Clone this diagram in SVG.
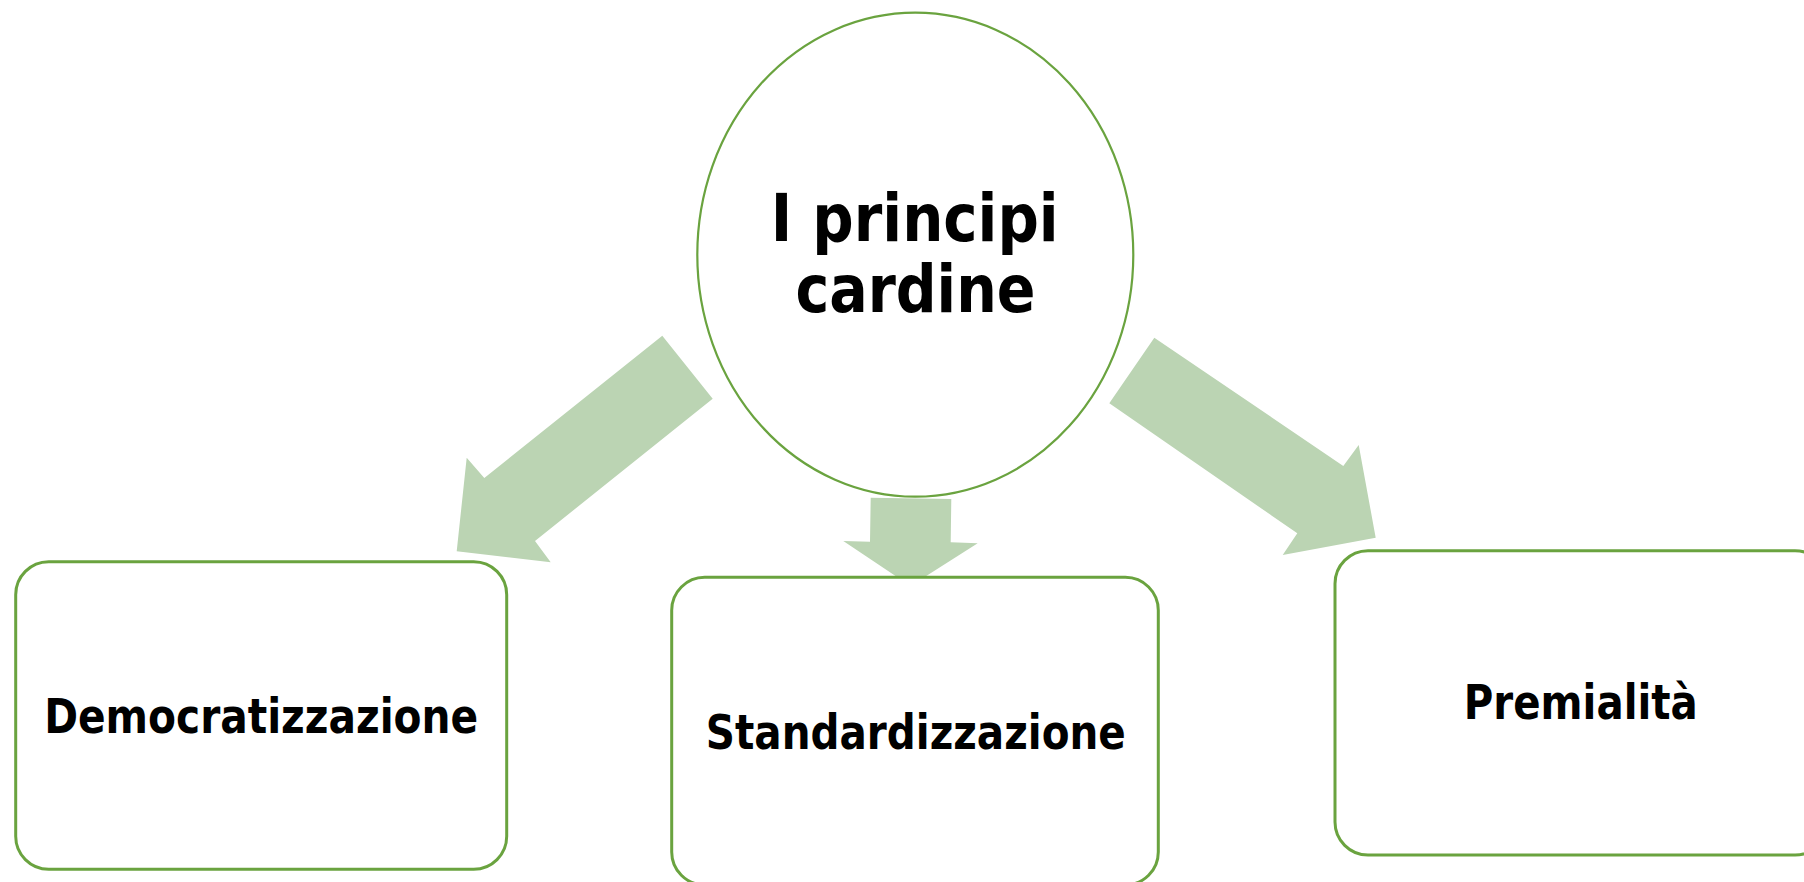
<svg xmlns="http://www.w3.org/2000/svg" width="1804" height="882" viewBox="0 0 1804 882">
  <style>
    .arrow { fill: #BBD4B3; stroke: none; }
    .node { fill: #FFFFFF; stroke: #6AA33F; stroke-width: 3; }
    .hub { fill: #FFFFFF; stroke: #6AA33F; stroke-width: 2.2; }
    .lbl { font-family: "DejaVu Sans", "Liberation Sans", sans-serif; font-weight: bold; fill: #000000; text-anchor: middle; }
    .box-lbl { font-size: 48px; }
    .hub-lbl { font-size: 66px; }
  </style>
  <rect x="0" y="0" width="1804" height="882" fill="#FFFFFF"/>
  <g id="connectors">
    <polygon class="arrow" points="662.3,335.7 712.7,398.7 535,541 550.7,562.3 456.7,551.3 466.7,457.7 484.3,478"/>
    <polygon class="arrow" points="870.7,497.7 951.3,499 950.7,542.3 977.7,543.3 910.5,585.9 843.3,541 870,541.7"/>
    <polygon class="arrow" points="1154.3,337.7 1109.3,403.3 1297.3,533.3 1282.7,555 1375.7,537.7 1358.7,445 1343.3,466"/>
  </g>
  <g id="hub">
    <ellipse class="hub" cx="915.3" cy="254.7" rx="218" ry="242"/>
    <text class="lbl hub-lbl" x="914.7" y="240.7" textLength="288" lengthAdjust="spacingAndGlyphs">I principi</text>
    <text class="lbl hub-lbl" x="915.4" y="311.7" textLength="240" lengthAdjust="spacingAndGlyphs">cardine</text>
  </g>
  <g id="node-democratizzazione">
    <rect class="node" x="15.7" y="561.7" width="491" height="307.6" rx="33" ry="33"/>
    <text class="lbl box-lbl" x="261.2" y="732.7" textLength="434" lengthAdjust="spacingAndGlyphs">Democratizzazione</text>
  </g>
  <g id="node-standardizzazione">
    <rect class="node" x="671.7" y="577.3" width="486.6" height="307.6" rx="33" ry="33"/>
    <text class="lbl box-lbl" x="915.8" y="749" textLength="420" lengthAdjust="spacingAndGlyphs">Standardizzazione</text>
  </g>
  <g id="node-premialita">
    <rect class="node" x="1335" y="550.7" width="493" height="304.3" rx="33" ry="33"/>
    <text class="lbl box-lbl" x="1580.8" y="719.3" textLength="234" lengthAdjust="spacingAndGlyphs">Premialità</text>
  </g>
</svg>
